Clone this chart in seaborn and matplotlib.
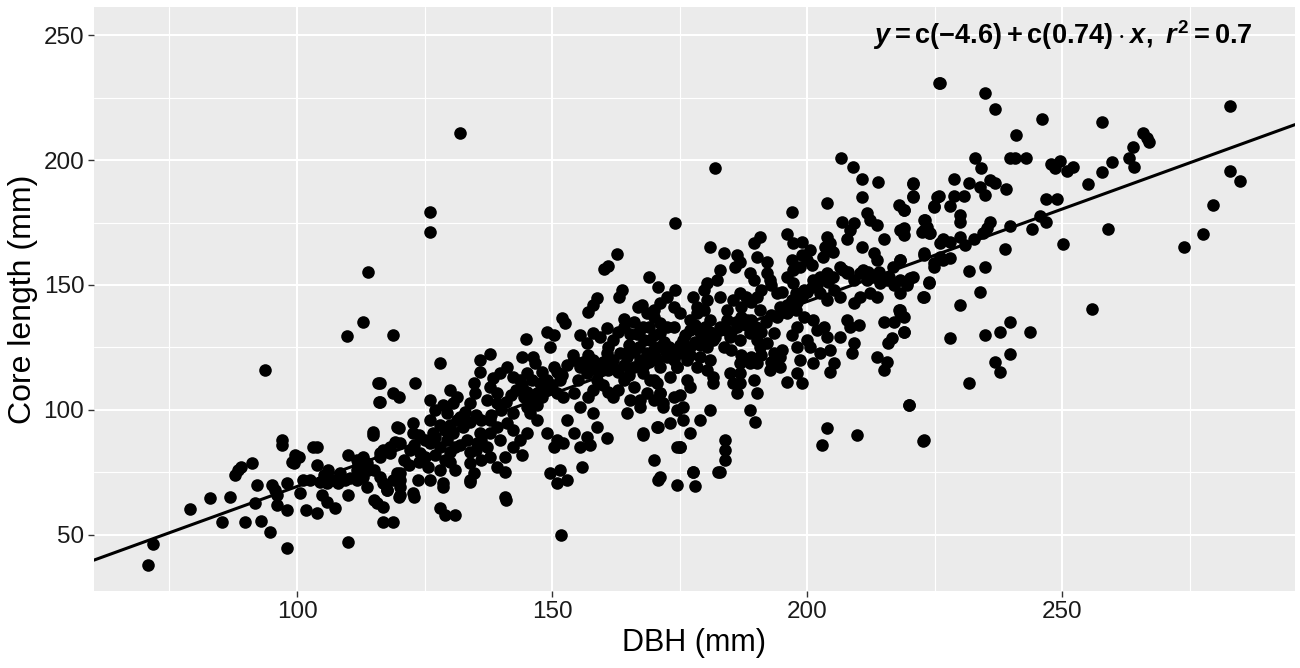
import matplotlib
matplotlib.use("Agg")
import matplotlib.pyplot as plt
import seaborn as sns
import pandas as pd
from matplotlib.ticker import MultipleLocator

# DBH (mm), core length (mm), grouped by area of the cloud
small_trees = [
    (109.7, 129.6), (118.8, 130.0), (93.7, 116), (115.8, 110.9), (116.1, 103.2), (118.9, 106.9), (119.9, 105.3),
    (114.8, 91.3), (114.8, 90), (97, 88), (97, 86), (119.9, 92.7), (119.2, 87.3), (103.1, 85.3), (103.9, 85.1),
    (99.6, 82), (100.3, 81.3), (99, 79.3), (99.4, 78.7), (110, 82), (113, 81.3), (111.7, 80), (113.7, 78.7),
    (116.9, 84), (116.3, 81.3), (118.2, 82.7), (91.1, 78.9), (89.1, 77.3), (88.5, 76), (87.8, 74), (104, 78),
    (101.2, 72), (102.5, 72), (100.6, 66.7), (105.2, 74), (104.5, 71.3), (105.8, 70.7),
    (108.4, 74.7), (109.4, 72), (108.1, 70.7), (110.4, 72.7), (111.7, 76), (113, 73.3), (113.7, 69.3), (111.7, 72),
    (115, 76), (116.3, 73.3), (116.9, 70.7), (117.6, 68), (119.5, 74.7), (120.2, 72), (120.2, 69.3), (119.9, 65.3),
    (92.1, 70), (95, 70), (95.7, 68), (96, 66), (98, 70.7), (104.8, 66), (105.8, 63.3), (107.5, 60.7),
    (110, 66), (115, 64), (115.6, 62.7), (116.9, 61.3), (116.9, 55.3), (118.9, 55.3), (79, 60.3), (82.9, 64.7),
    (86.9, 65.3), (91.8, 62.9), (85.2, 55.3), (89.8, 55.3), (92.9, 55.7), (94.7, 51.3), (96, 62), (98, 60),
    (101.8, 60), (104, 58.9), (98, 44.7), (110, 47.3), (71.8, 46.4), (70.8, 38), (113.9, 155.3), (113, 135.1),
]

mid_trees = [
    (126.1, 179.1), (126.1, 171.3), (132.0, 210.8), (162.8, 162.4), (160.1, 156.3), (161.0, 157.6),
    (163.7, 148), (163.2, 145.3), (158.8, 144.7), (158.1, 142), (157.1, 139.3),
    (167.6, 142), (166.9, 141.3), (164, 136.3), (151.9, 136.7), (152.5, 134.7),
    (169.9, 137.3), (171.2, 134.7), (172.5, 133.3), (165.3, 130.4), (166.6, 130.4), (160.7, 132.7), (159.4, 129.3),
    (158.1, 130.7), (155.5, 130), (156.8, 126.7), (148.9, 131.3), (150.3, 130), (149.6, 125.3), (144.8, 128.4),
    (128, 118.9), (137.8, 122.4), (135.9, 120), (135.9, 115.3), (144.1, 121.3), (146.3, 121.3), (146.7, 118.7),
    (141.1, 117.3), (139.8, 114.7), (138.5, 112.7), (142.4, 113.3), (143.7, 112), (145, 114.7), (123.1, 110.7),
    (116.3, 110.7), (116.3, 103.3), (130, 108), (131.3, 105.3), (130.6, 102.7), (134.6, 110.7), (134.9, 106.7),
    (133.9, 102.7), (126.1, 104), (127.1, 100), (128.7, 102), (129.3, 98.7), (131.3, 96), (137.8, 109.3),
    (139.1, 106.7), (137.2, 104), (139.1, 102.7), (144.4, 105.3), (145, 101.3), (142.4, 98.7), (141.1, 94.7),
    (147, 106.7), (147.6, 110.7), (150.3, 117.3), (151.6, 112), (150.9, 106.7), (152.2, 105.3), (154.2, 120),
    (155.5, 117.3), (156.8, 114.7), (158.8, 112), (160.7, 122.7), (162, 120), (163.3, 122.7), (164.6, 121.3),
    (166, 117.3), (167.2, 120), (168.6, 122.7), (170.5, 120), (172.5, 122.7), (173.8, 120), (174.4, 117.3),
    (173.1, 113.3), (169.9, 112), (171.2, 106.7), (171.8, 101.3), (170.5, 93.3), (166, 109.3), (165.3, 104),
    (164.6, 98.7), (167.2, 101.3), (154.2, 106.7), (155.5, 101.3), (158.1, 98.7), (158.8, 93.3), (156.8, 89.3),
    (152.9, 96), (154.2, 90.7), (152.2, 86.7), (150.3, 85.3), (148.9, 90.7), (150.9, 88), (155.5, 85.3), (157.4, 86),
    (160.7, 88.7), (167.9, 90), (169.9, 80), (170.8, 72), (174.4, 85.3), (174.4, 70), (155.8, 77.3),
    (149.6, 74.7), (151.6, 76), (152.9, 72), (150.9, 70.7), (140.8, 81.3), (140.8, 75.3), (144.1, 82), (140.8, 65.3),
    (133.9, 78.7), (134.6, 74.7), (133.9, 71.3), (125.7, 77.3), (126.1, 72), (123.8, 72), (128.7, 69.3),
    (122.8, 66.7), (120.2, 66), (117.6, 68), (118.9, 72), (120.2, 74.7), (116.3, 82.7), (118.2, 85.3), (120.2, 86.7),
    (122.2, 84), (124.1, 82.7), (119.5, 93.3), (122.8, 94.7), (122.8, 90.7), (126.1, 96), (126.7, 90.7), (126.1, 86.7),
    (128, 85.3), (129.3, 88), (130.6, 90.7), (132.6, 93.3), (133.3, 88), (135.9, 90.7), (135.2, 86.7), (137.2, 85.3),
    (137.8, 96), (139.1, 93.3), (137.8, 90.7), (139.8, 88), (142.4, 92), (143.7, 88), (145, 90.7), (142.4, 85.3),
    (145.7, 98.7), (147, 96), (137.8, 81.3), (139.1, 77.3),
    (151.8, 50), (141, 64), (122.9, 65.3), (128, 60.7), (129, 58), (131, 58), (175, 85.1), (178, 69.7),
    (177.7, 75.1), (182.6, 75.1), (128.7, 70.7), (133.9, 72),
]

# the packed middle of the cloud, where points sit on top of each other
dense_core = [
    (152, 114), (153, 118), (154, 122), (155, 112), (156, 119), (157, 122), (157, 117), (158, 120),
    (159, 115), (159, 118), (160, 119), (161, 116), (161, 125), (162, 117), (163, 115), (164, 118),
    (165, 124), (165, 126), (166, 123), (167, 125), (168, 118), (169, 119), (170, 124), (171, 125),
    (172, 127), (173, 125), (174, 124), (175, 126), (176, 125), (177, 122), (178, 127), (179, 126),
    (180, 128), (181, 131), (182, 129), (183, 133), (184, 132), (185, 131), (186, 135), (187, 137),
    (188, 134), (189, 136), (190, 133), (191, 131), (192, 135), (193, 138), (194, 137), (195, 139),
    (196, 142), (197, 144), (198, 143), (199, 145), (200, 147), (201, 149), (202, 150), (204, 151),
    (205, 153), (207, 156), (208, 155), (211, 156), (212, 155), (214, 155), (216, 153), (217, 150),
    (141, 103), (142, 106), (143, 108), (144, 110), (145, 107), (146, 104), (147, 102), (148, 105),
    (149, 108), (149, 112), (150, 110), (151, 115), (146, 112), (148, 115), (140, 100), (138, 98),
    (136, 96), (135, 98), (134, 95), (133, 99), (132, 97), (130, 94), (129, 92), (128, 94),
    (127, 89), (125, 88), (124, 90), (123, 86), (121, 80), (122, 78), (124, 79), (125, 81),
    (127, 82), (129, 80), (130, 83), (131, 85), (132, 86), (134, 83), (135, 84), (136, 88),
    (131, 76), (130, 79), (128, 76), (136, 80), (112, 78), (114, 76), (106, 76), (107, 72),
    (162, 128), (163, 131), (164, 133), (166, 135), (167, 131), (168, 128), (169, 133), (170, 130),
    (160, 110), (161, 107), (162, 105), (163, 108), (164, 112), (165, 114), (158, 108), (157, 105),
    (176, 130), (177, 132), (178, 134), (179, 131), (180, 133), (187, 141), (188, 145), (189, 143),
    (191, 148), (193, 150), (195, 147), (197, 160), (199, 162), (201, 158), (203, 161), (205, 163),
    (185, 124), (187, 122), (189, 121), (191, 122), (193, 119), (195, 124), (197, 130), (198, 133),
]

large_trees = [
    (225.8, 230.7), (182, 196.7), (206.7, 200.7), (208.9, 197.1), (210.7, 192.4), (213.8, 191.1), (220.7, 190.7),
    (220.7, 185.3), (210.7, 185.3), (203.9, 182.7), (225.4, 185.3), (224.8, 181.3), (217.9, 182), (218.9, 180),
    (197, 179.1), (174.1, 174.7), (206.8, 175.3), (209.1, 174.7), (208.4, 172), (207.8, 168.3), (211.7, 178.7),
    (212.4, 176), (213.7, 174), (218.9, 172.7), (218.9, 170), (215, 168.3), (222.8, 176), (223.5, 173.3),
    (224.1, 170.7), (222.8, 172), (226.1, 166.7), (196, 170.4), (197.3, 166.7), (198.9, 167.3), (200.6, 164),
    (203.9, 169.3), (204.5, 166.7), (203.5, 165.3), (210.7, 165.3), (213, 162.7), (213.7, 160), (218.2, 160),
    (216.9, 157.3), (222.8, 162.7), (224.8, 158.7), (226.1, 161.3), (220.8, 153.3), (219.5, 150.7), (223.8, 151.3),
    (222.8, 145.3), (181, 165.3), (183.6, 162.7), (186.2, 162), (186.9, 159.3), (185.9, 157.3), (189.5, 166.7),
    (190.8, 169.3), (190.1, 161.3), (192.1, 159.3), (188.8, 154.7), (189.5, 152), (192.1, 154.7), (192.7, 152),
    (182.9, 156), (182.3, 152), (180.3, 150.7), (179.7, 148), (168.9, 153.3), (170.8, 149.3), (174.1, 148),
    (177.7, 145.3), (178.4, 141.3), (180.3, 144), (182.9, 145.3), (184.2, 140), (185.5, 144), (186.9, 146.7),
    (190.1, 145.3), (190.8, 140), (194.1, 146.7), (196, 153.3), (197.3, 156), (198.6, 157.3), (199.9, 160),
    (197.3, 150.7), (197.9, 146.7), (199.3, 148), (201.2, 152), (202.5, 153.3), (203.9, 154.7), (206.5, 157.3),
    (207.8, 154.7), (209.1, 152), (210.4, 154.7), (211.7, 152), (213, 153.3), (214.3, 150.7), (215.6, 152),
    (202.5, 146.7), (203.9, 144), (205.2, 148), (206.5, 145.3), (209.1, 142.7), (210.4, 145.3), (212.4, 146.7),
    (213.7, 145.3), (194.7, 141.3), (196, 138.7), (197.9, 140), (199.3, 137.3), (201.2, 136), (201.9, 132),
    (203.2, 133.3), (203.9, 129.3), (217.9, 140), (218.9, 137.3), (218.2, 138.7), (215, 135.3), (217, 135.3),
    (207.8, 136), (208.4, 133.3), (210.1, 134), (206.5, 129.3), (209.1, 126.7), (208.8, 122.7), (215.9, 126.7),
    (216.6, 128.7), (218.9, 131.3), (213.7, 121.3), (215.6, 119.3), (215, 116), (219.9, 102), (222.8, 88),
    (209.7, 90), (203.9, 92.9), (202.9, 86), (198, 114.7), (198.9, 110.7), (196, 111.3), (198.6, 120),
    (201.2, 118.7), (202.5, 122.7), (204.5, 124), (205.2, 118.7), (204.5, 115.3), (199.9, 128), (200.6, 125.3),
    (198, 125.3), (193.4, 130.7), (192.1, 126.7), (193.4, 122.7), (194.7, 121.3), (194.7, 117.3), (192.7, 116),
    (186.9, 118.7), (188.8, 118.7), (190.1, 118.7), (186.9, 114.7), (185.5, 110.7), (189.5, 112), (190.1, 106.7),
    (188.8, 100), (189.8, 95.3), (186.9, 110.7), (186.2, 106.7), (183.6, 125.3), (184.9, 129.3), (186.9, 128),
    (182.9, 132), (184.2, 136), (186.2, 133.3), (188.2, 136), (188.8, 130.7), (190.1, 128), (190.8, 125.3),
    (181.6, 128), (180.3, 125.3), (179, 121.3), (181, 120), (178.4, 117.3), (180.3, 116), (181.6, 113.3),
    (181.6, 110.7), (184.9, 114.7), (181, 100), (175.7, 128), (177.1, 125.3), (175.1, 122.7), (176.4, 120),
    (174.4, 117.3), (172.5, 121.3), (171.2, 117.3), (169.9, 124), (169.2, 128), (171.2, 130.7), (173.8, 133.3),
    (167.9, 133.3), (168.6, 138.7), (169.9, 140), (171.2, 142.7), (172.5, 145.3), (173.8, 141.3), (175.1, 138.7),
    (177.1, 136), (178.4, 138.7), (179.7, 140), (181, 136), (167.9, 114.7), (169.2, 112), (170.5, 110.7),
    (168.6, 106.7), (171.2, 106.7), (167.3, 104), (169.9, 104), (171.8, 102.7), (173.8, 105.3), (175.1, 106),
    (175.7, 101.3), (174.4, 100), (175.7, 96), (173.1, 94.7), (170.8, 93.3), (167.9, 90.7), (171.2, 73.3),
    (175.1, 85.3), (177.1, 90.7), (178.9, 96), (183.9, 88), (183.9, 84), (183.9, 80), (182.9, 75.3),
    (177.7, 75.3), (176.4, 112), (177.1, 109.3),
]

biggest_trees = [
    (226.1, 230.7), (234.9, 226.7), (236.9, 220.4), (246, 216.4), (241, 210), (239.8, 200.7), (240.8, 200.7),
    (242.9, 200.7), (232.9, 200.7), (234.1, 196.7), (257.8, 215.3), (282.9, 221.6), (265.8, 210.7), (266.6, 208.7),
    (266.9, 207.3), (263.9, 205.1), (263, 200.7), (264, 197.3), (259.7, 199.3), (257.8, 195.3), (255, 190.4),
    (247.7, 198.4), (248.6, 196.7), (249.6, 199.7), (250.9, 195.7), (252.1, 197.3), (246.8, 184.3), (249, 184.3),
    (228.8, 192.3), (231.8, 190.9), (233.9, 189.3), (235.9, 192), (236.9, 190.7), (239, 188.3), (234.9, 186),
    (220.7, 190.4), (220.7, 185.6), (225.8, 185.6), (224.8, 181.6), (228.7, 185.6), (228, 181.7), (230.7, 185.6),
    (218.9, 180), (218.2, 172), (223.1, 176), (223.8, 170.7), (222.5, 171.3), (229.9, 178), (229.9, 175.3),
    (235.9, 175.3), (235.2, 172.7), (234.4, 170.9), (239.8, 173.6), (244.1, 172.4), (245.7, 177.6), (246.8, 175.3),
    (226.7, 168.3), (228, 167.3), (230, 169.3), (231, 166), (232.6, 168.4), (222.8, 162), (224.8, 157.3),
    (226.7, 160), (228, 160.7), (218.2, 160), (218.2, 152), (220.2, 152.7), (219.5, 150), (218.2, 146.7),
    (223.8, 150.9), (222.6, 145.3), (218.2, 140), (218.9, 131.3), (231.8, 155.6), (234.9, 157.1), (238.8, 164.5),
    (250.1, 166.3), (258.9, 172.4), (233.9, 147.1), (229.9, 141.9), (227.9, 128.9), (234.9, 130), (237.8, 131.1),
    (239.8, 135.1), (243.7, 131.1), (236.9, 119.3), (237.8, 115.3), (239.8, 122.3), (231.8, 110.9), (255.8, 140.3),
    (220, 102), (222.7, 87.7), (273.8, 165.1), (277.6, 170.3), (279.5, 182), (282.9, 195.6), (284.9, 191.6),
]

# fitted line shown in the picture
intercept = -4.6
slope = 0.74
r_squared = 0.7
x_ticks = [100, 150, 200, 250]
y_ticks = [50, 100, 150, 200, 250]

df = pd.DataFrame(small_trees + mid_trees + dense_core + large_trees + biggest_trees,
                  columns=["dbh", "core"])

sns.set_theme(style="darkgrid", rc={
    "axes.facecolor": "#EBEBEB",
    "grid.color": "white",
    "figure.facecolor": "white",
})
plt.rcParams["font.family"] = ["Liberation Sans", "DejaVu Sans"]
plt.rcParams["mathtext.fontset"] = "custom"
plt.rcParams["mathtext.rm"] = "Liberation Sans:bold"
plt.rcParams["mathtext.bf"] = "Liberation Sans:bold"
plt.rcParams["mathtext.it"] = "Liberation Sans:italic:bold"

fig = plt.figure(figsize=(13, 6.68), dpi=100)
ax = fig.add_axes([0.0723, 0.1153, 0.9238, 0.8742])

sns.scatterplot(data=df, x="dbh", y="core", color="black", s=82, linewidth=0, ax=ax, zorder=3)
ax.axline((0, intercept), slope=slope, color="black", lw=2.2, zorder=4)

ax.set_xlim(60.2, 295.6)
ax.set_ylim(27.6, 261.2)
ax.set_xticks(x_ticks)
ax.set_yticks(y_ticks)
ax.xaxis.set_minor_locator(MultipleLocator(25))
ax.yaxis.set_minor_locator(MultipleLocator(25))
ax.grid(which="major", color="white", lw=1.5)
ax.grid(which="minor", color="white", lw=0.8)
ax.tick_params(which="major", length=4, width=1, color="#333333", labelsize=17.5,
               labelcolor="#1a1a1a", pad=3, bottom=True, left=True)
ax.tick_params(which="minor", length=0)
for s in ax.spines.values():
    s.set_visible(False)

ax.set_xlabel("DBH (mm)", fontsize=22, color="black", labelpad=4)
ax.set_ylabel("Core length (mm)", fontsize=23, color="black", labelpad=4)

eq = r"$y = \mathrm{c(-4.6)} + \mathrm{c(0.74)} \cdot x,\ r^2 = \mathrm{%s}$" % r_squared
ax.text(250, 250, eq, ha="center", va="center", fontsize=19.5, color="black", zorder=5)

fig.savefig("out.png", dpi=100)
